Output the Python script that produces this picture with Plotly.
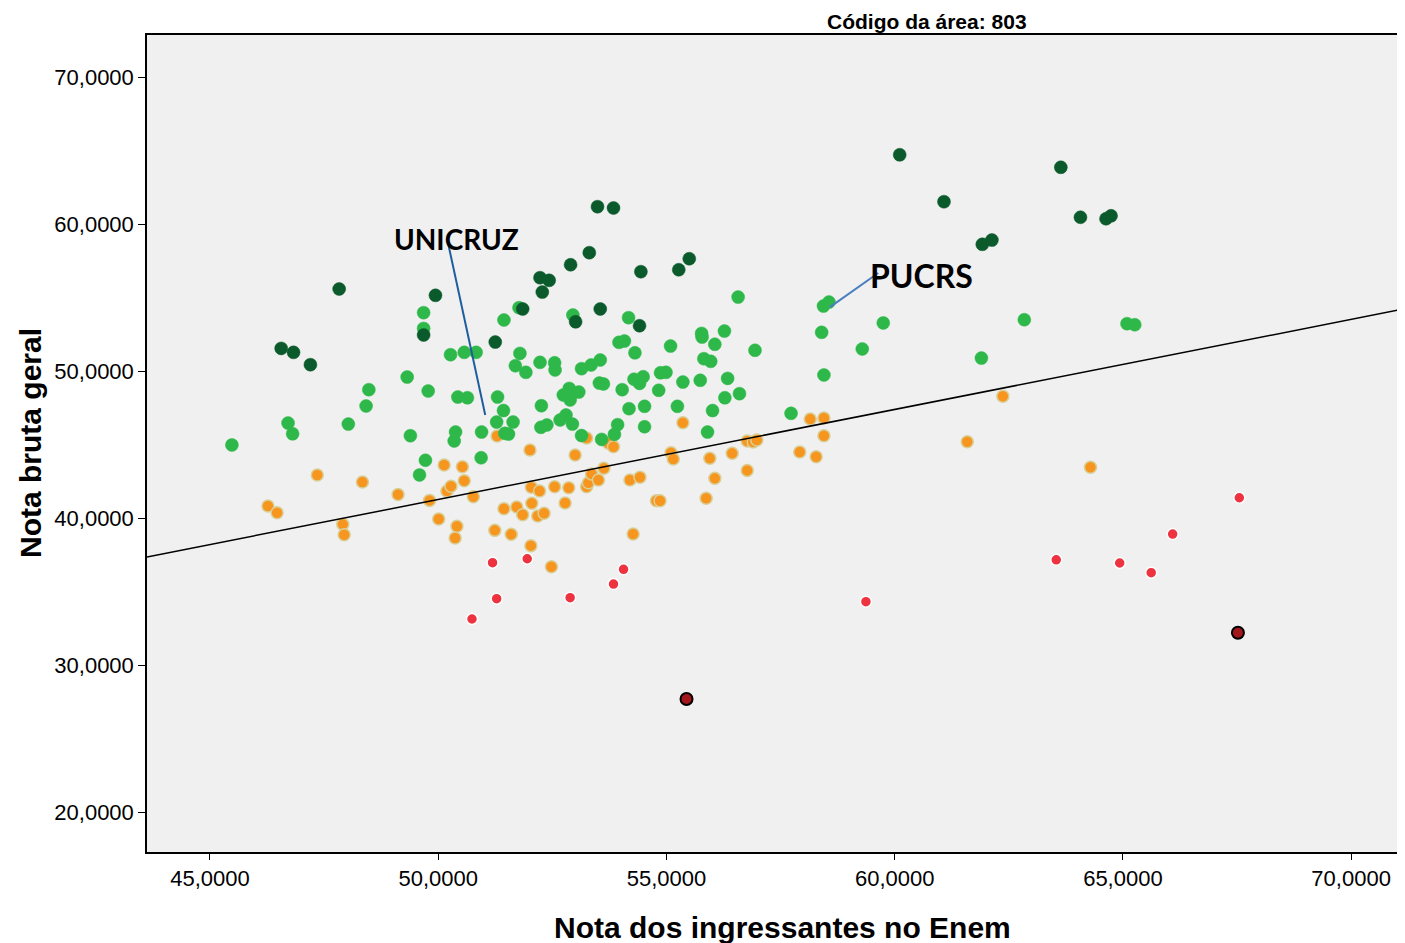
import plotly.graph_objects as go

# ---------------- data ----------------
dark_green_x = [46.56, 46.83, 47.20, 47.83, 49.94, 49.68, 51.25, 51.85, 52.23, 52.43,
                52.28, 52.90, 53.31, 53.01, 53.49, 53.84, 53.55, 54.44, 54.41, 55.27,
                55.50, 60.11, 61.08, 61.92, 62.13, 63.64, 64.07, 64.63, 64.74]
dark_green_y = [51.54, 51.27, 50.43, 55.58, 55.15, 52.45, 51.97, 54.22, 56.35, 56.17,
                55.37, 57.23, 58.05, 53.35, 61.18, 61.09, 54.22, 56.76, 53.08, 56.89,
                57.64, 64.71, 61.52, 58.62, 58.91, 63.86, 60.46, 60.36, 60.56]

light_green_x = [45.48, 46.71, 46.81, 48.03, 48.42, 48.48, 49.68, 49.68, 51.44, 51.77,
                 52.95, 50.27, 50.57, 50.83, 51.79, 51.69, 51.92, 52.23, 52.55, 52.56,
                 53.14, 53.35, 49.32, 49.78, 50.43, 50.64, 51.30, 51.43, 52.26, 52.74,
                 52.87, 53.08, 52.89, 52.80, 52.67, 51.28, 51.64, 49.39, 50.38, 50.35,
                 50.95, 49.72, 49.59, 50.94, 51.46, 51.54, 52.25, 52.38, 52.94, 53.14,
                 54.17, 56.57, 53.96, 54.08, 54.31, 55.09, 55.77, 55.78, 56.27, 56.06,
                 56.94, 55.82, 55.97, 53.55, 53.53, 53.62, 54.03, 54.29, 54.49, 54.41,
                 54.87, 54.99, 54.83, 55.36, 55.74, 56.34, 56.28, 56.60, 54.18, 54.52,
                 55.24, 56.01, 53.93, 57.73, 53.58, 53.86, 54.52, 55.90, 58.44, 58.56,
                 58.40, 59.75, 59.29, 58.45, 61.90, 62.84, 65.09, 65.26]
light_green_y = [44.97, 46.46, 45.73, 46.39, 47.62, 48.73, 53.97, 52.90, 53.47, 54.31,
                 53.81, 51.11, 51.27, 51.27, 51.20, 50.36, 49.91, 50.59, 50.56, 50.07,
                 50.16, 50.41, 49.59, 48.64, 48.23, 48.18, 48.23, 47.31, 47.64, 48.37,
                 48.82, 48.57, 48.03, 47.01, 46.67, 46.53, 46.53, 45.60, 45.85, 45.24,
                 45.85, 43.93, 42.93, 44.10, 45.76, 45.71, 46.17, 46.33, 46.39, 45.61,
                 53.63, 55.03, 51.95, 52.04, 51.24, 51.70, 52.56, 52.31, 52.72, 51.82,
                 51.41, 50.84, 50.66, 50.75, 49.18, 49.12, 48.73, 49.44, 49.61, 49.16,
                 49.88, 49.91, 48.69, 49.25, 49.37, 49.50, 48.18, 48.46, 47.44, 47.60,
                 47.60, 47.31, 46.35, 47.12, 45.35, 45.69, 46.21, 45.85, 54.42, 54.69,
                 52.63, 53.27, 51.50, 49.73, 50.88, 53.49, 53.22, 53.15]

orange_x = [46.27, 46.47, 47.35, 47.91, 47.94, 48.34, 49.12, 49.81, 50.01, 50.13,
            50.19, 50.28, 50.37, 50.41, 50.53, 50.57, 50.77, 51.24, 51.29, 51.44,
            51.60, 51.72, 51.85, 52.01, 52.03, 52.04, 52.05, 52.18, 52.22, 52.32,
            52.48, 52.55, 52.78, 52.86, 53.00, 53.25, 53.29, 53.36, 53.51, 53.63,
            53.25, 53.73, 53.84, 54.20, 54.42, 54.27, 54.78, 54.86, 55.10, 55.15,
            55.36, 55.87, 55.95, 56.06, 56.44, 56.77, 56.90, 56.98, 56.77, 57.92,
            58.15, 58.28, 58.45, 58.45, 61.59, 62.37, 64.29]
orange_y = [40.82, 40.36, 42.93, 39.57, 38.86, 42.45, 41.60, 41.20, 39.93, 43.61,
            41.84, 42.16, 38.64, 39.44, 43.49, 42.54, 41.45, 39.16, 45.58, 40.63,
            38.89, 40.75, 40.22, 44.63, 38.12, 42.09, 41.00, 40.14, 41.84, 40.32,
            36.69, 42.13, 41.02, 42.06, 44.29, 42.13, 42.40, 42.99, 42.59, 43.38,
            45.44, 45.08, 44.85, 42.59, 42.77, 38.91, 41.18, 41.18, 44.44, 44.01,
            46.48, 41.34, 44.06, 42.70, 44.40, 45.24, 45.17, 45.31, 43.24, 44.49,
            46.73, 44.17, 46.80, 45.60, 45.19, 48.28, 43.45]

red_x = [51.19, 51.95, 51.28, 50.74, 52.89, 53.84, 54.06, 59.37, 63.54, 64.93,
         65.62, 66.09, 67.55]
red_y = [36.96, 37.23, 34.51, 33.13, 34.58, 35.51, 36.51, 34.31, 37.16, 36.94,
         36.28, 38.91, 41.38]

dark_red_x = [55.44, 67.52]
dark_red_y = [27.69, 32.20]

# fitted line
fit_intercept = 10.63
fit_slope = 0.6126

x_range = [43.62, 71.18]
y_range = [17.28, 72.86]

x_ticks = [45, 50, 55, 60, 65, 70]
x_tick_labels = ["45,0000", "50,0000", "55,0000", "60,0000", "65,0000", "70,0000"]
y_ticks = [20, 30, 40, 50, 60, 70]
y_tick_labels = ["20,0000", "30,0000", "40,0000", "50,0000", "60,0000", "70,0000"]

# labelled institutions: label position and leader-line points
labels = ["UNICRUZ", "PUCRS"]
label_x = [48.99, 59.42]
label_y = [58.98, 56.53]
leader_x = [[50.21, 51.03], [59.64, 58.58]]
leader_y = [[58.78, 47.01], [56.67, 54.35]]

# ---------------- figure ----------------
fig = go.Figure()

fig.add_trace(go.Scatter(x=red_x, y=red_y, mode="markers",
                         marker=dict(size=11, color="#ee3340",
                                     line=dict(color="#ffffff", width=1.5))))
fig.add_trace(go.Scatter(x=orange_x, y=orange_y, mode="markers",
                         marker=dict(size=12, color="#f7961e",
                                     line=dict(color="#d9cf98", width=1.5))))
fig.add_trace(go.Scatter(x=light_green_x, y=light_green_y, mode="markers",
                         marker=dict(size=13, color="#2eb84a",
                                     line=dict(color="#2eb84a", width=0.5))))
fig.add_trace(go.Scatter(x=dark_green_x, y=dark_green_y, mode="markers",
                         marker=dict(size=13, color="#0b5a2b",
                                     line=dict(color="#0b5a2b", width=0.5))))
fig.add_trace(go.Scatter(x=dark_red_x, y=dark_red_y, mode="markers",
                         marker=dict(size=12, color="#a3161c",
                                     line=dict(color="#000000", width=2))))

fit_x = x_range
fit_y = [fit_intercept + fit_slope * v for v in fit_x]
fig.add_trace(go.Scatter(x=fit_x, y=fit_y, mode="lines",
                         line=dict(color="#000000", width=1.5)))

leader_colors = ["#1f5e9c", "#4a7ec0"]
for lx, ly, lc in zip(leader_x, leader_y, leader_colors):
    fig.add_trace(go.Scatter(x=lx, y=ly, mode="lines",
                             line=dict(color=lc, width=2)))

label_sizes = [28, 32]
for t, lx, ly, s in zip(labels, label_x, label_y, label_sizes):
    fig.add_annotation(x=lx, y=ly, xref="x", yref="y", text=f"<b>{t}</b>",
                       showarrow=False, xanchor="left", yanchor="middle",
                       font=dict(family="Lato", size=s, color="#000000"))

fig.add_annotation(x=0.62, y=1.0171, xref="paper", yref="paper",
                   text="<b>Código da área: 803</b>", showarrow=False,
                   xanchor="center", yanchor="middle",
                   font=dict(family="Liberation Sans, Arial", size=21, color="#000000"))
fig.add_annotation(x=0.5048, y=-0.093, xref="paper", yref="paper",
                   text="<b>Nota dos ingressantes no Enem</b>", showarrow=False,
                   xanchor="center", yanchor="middle",
                   font=dict(family="Liberation Sans, Arial", size=30, color="#000000"))
fig.add_annotation(x=-0.093, y=0.5006, xref="paper", yref="paper",
                   text="<b>Nota bruta geral</b>", showarrow=False, textangle=-90,
                   xanchor="center", yanchor="middle",
                   font=dict(family="Liberation Sans, Arial", size=30, color="#000000"))

# the page body has an 8px margin: size the figure so it fits the window
fig.update_layout(
    width=1397, height=935,
    margin=dict(l=139, r=0, t=27, b=91),
    paper_bgcolor="#ffffff", plot_bgcolor="#f0f0f0",
    showlegend=False,
    xaxis=dict(range=x_range, tickvals=x_ticks, ticktext=x_tick_labels,
               showgrid=False, zeroline=False, showline=True, linecolor="#000000",
               linewidth=1.5, mirror=True, ticks="outside", ticklen=6,
               tickcolor="#000000", tickwidth=1,
               tickfont=dict(family="Liberation Sans, Arial", size=22, color="#000000")),
    yaxis=dict(range=y_range, tickvals=y_ticks, ticktext=y_tick_labels,
               showgrid=False, zeroline=False, showline=True, linecolor="#000000",
               linewidth=1.5, ticks="outside", ticklen=7,
               tickcolor="#000000", tickwidth=1,
               tickfont=dict(family="Liberation Sans, Arial", size=22, color="#000000")),
)

fig.write_html("out.html")
